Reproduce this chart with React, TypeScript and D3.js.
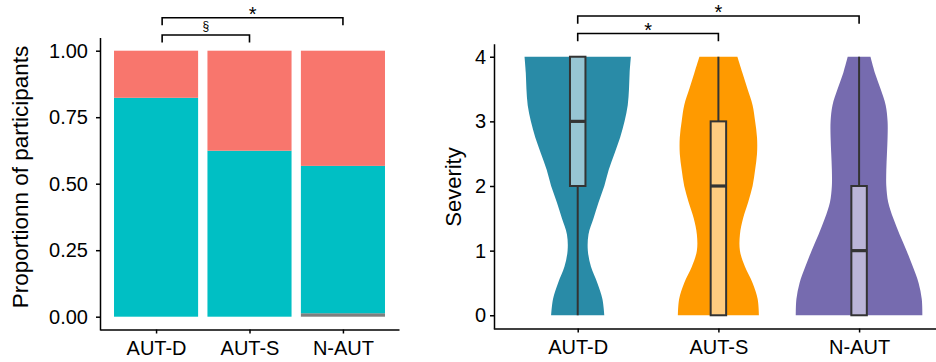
import * as d3 from 'd3';
import React, { useRef, useEffect } from 'react';

// groups on both panels
const groups = ['AUT-D', 'AUT-S', 'N-AUT'];

// left panel: stacked proportions (bottom -> top: NA, yes, no)
const propNA = [0, 0, 0.013];
const propYes = [0.823, 0.624, 0.554];
const propNo = [0.177, 0.376, 0.433];
const stackKeys = ['na', 'yes', 'no'];
const stackColors = ['#7F7F7F', '#00BFC4', '#F8766D'];
const leftTicks = [0, 0.25, 0.5, 0.75, 1];

// right panel: violin half-widths (relative density) at severity levels
const sevLevels = [0, 0.25, 0.5, 0.75, 1, 1.25, 1.5, 1.75, 2, 2.25, 2.5, 2.75, 3, 3.25, 3.5, 3.75, 4];
const densAUTD = [0.42, 0.39, 0.31, 0.21, 0.16, 0.17, 0.25, 0.33, 0.42, 0.49, 0.58, 0.67, 0.74, 0.79, 0.81, 0.82, 0.84];
const densAUTS = [0.64, 0.62, 0.54, 0.42, 0.34, 0.34, 0.39, 0.47, 0.54, 0.58, 0.61, 0.61, 0.58, 0.54, 0.46, 0.38, 0.30];
const densNAUT = [1.0, 0.99, 0.94, 0.85, 0.75, 0.64, 0.54, 0.46, 0.43, 0.43, 0.44, 0.45, 0.45, 0.42, 0.34, 0.25, 0.18];

// box stats: min, q1, median, q3, max
const boxAUTD = [0, 2, 3, 4, 4];
const boxAUTS = [0, 0, 2, 3, 4];
const boxNAUT = [0, 0, 1, 2, 4];
const violinColors = ['#298BA7', '#FF9A00', '#766BAF'];
const boxColors = ['#97C5D3', '#FFCC80', '#BBB5D8'];
const rightTicks = [0, 1, 2, 3, 4];

// significance brackets: [from, to, level, label]
const leftSig = [
  { from: 'AUT-D', to: 'N-AUT', level: 1.124, label: '*' },
  { from: 'AUT-D', to: 'AUT-S', level: 1.059, label: '§' },
];
const rightSig = [
  { from: 'AUT-D', to: 'N-AUT', level: 4.63, label: '*' },
  { from: 'AUT-D', to: 'AUT-S', level: 4.36, label: '*' },
];

const FONT = "'Liberation Sans', Arial, Helvetica, sans-serif";

function App() {
  const ref = useRef(null);

  useEffect(() => {
    const svg = d3.select(ref.current);
    svg.selectAll('*').remove();
    svg.attr('width', 936).attr('height', 362).style('font-family', FONT);

    // ---------- left panel ----------
    const xL = d3.scalePoint().domain(groups).range([100, 399]).padding(0.6);
    const yL = d3.scaleLinear().domain([-0.05, 1.05]).range([330, 37.4]);
    const stepL = xL.step();

    const rows = groups.map((g, i) => ({ group: g, na: propNA[i], yes: propYes[i], no: propNo[i] }));
    const series = d3.stack().keys(stackKeys)(rows);

    series.forEach((s, k) => {
      svg.append('g').selectAll('rect')
        .data(s)
        .enter()
        .append('rect')
        .attr('x', d => xL(d.data.group) - stepL * 0.45)
        .attr('width', stepL * 0.9)
        .attr('y', d => yL(d[1]))
        .attr('height', d => yL(d[0]) - yL(d[1]))
        .attr('fill', stackColors[k]);
    });

    const axL = svg.append('g').attr('transform', 'translate(100,0)')
      .call(d3.axisLeft(yL).tickValues(leftTicks).tickFormat(d3.format('.2f')).tickSize(4).tickSizeOuter(0).tickPadding(8));
    const axLB = svg.append('g').attr('transform', 'translate(0,329.5)')
      .call(d3.axisBottom(xL).tickSize(4).tickSizeOuter(0).tickPadding(7));

    svg.append('text')
      .attr('transform', 'translate(28,177) rotate(-90)')
      .attr('text-anchor', 'middle')
      .style('font-size', '22.5px')
      .text('Proportionn of participants');

    // ---------- right panel ----------
    const xR = d3.scalePoint().domain(groups).range([493.3, 943.5]).padding(0.6);
    const yR = d3.scaleLinear().domain([-0.2, 4.2]).range([328.2, 43.8]);
    const stepR = xR.step();
    const dens = [densAUTD, densAUTS, densNAUT];
    const boxes = [boxAUTD, boxAUTS, boxNAUT];

    groups.forEach((g, i) => {
      const cx = xR(g);
      const pts = sevLevels.map((v, j) => ({ v, w: dens[i][j] }));
      const area = d3.area()
        .y(d => yR(d.v))
        .x0(d => cx - d.w * 0.45 * stepR)
        .x1(d => cx + d.w * 0.45 * stepR)
        .curve(d3.curveCatmullRom);
      svg.append('path').attr('d', area(pts)).attr('fill', violinColors[i]);

      const [mn, q1, med, q3, mx] = boxes[i];
      const bw = stepR * 0.11;
      const bx = svg.append('g');
      bx.append('line').attr('x1', cx).attr('x2', cx).attr('y1', yR(mn)).attr('y2', yR(q1))
        .attr('stroke', '#333').attr('stroke-width', 2);
      bx.append('line').attr('x1', cx).attr('x2', cx).attr('y1', yR(q3)).attr('y2', yR(mx))
        .attr('stroke', '#333').attr('stroke-width', 2);
      bx.append('rect').attr('x', cx - bw / 2).attr('width', bw)
        .attr('y', yR(q3)).attr('height', yR(q1) - yR(q3))
        .attr('fill', boxColors[i]).attr('stroke', '#333').attr('stroke-width', 2);
      bx.append('line').attr('x1', cx - bw / 2).attr('x2', cx + bw / 2).attr('y1', yR(med)).attr('y2', yR(med))
        .attr('stroke', '#333').attr('stroke-width', 3.2);
    });

    const axR = svg.append('g').attr('transform', 'translate(494,0)')
      .call(d3.axisLeft(yR).tickValues(rightTicks).tickFormat(d3.format('d')).tickSize(4).tickSizeOuter(0).tickPadding(4));
    const axRB = svg.append('g').attr('transform', 'translate(0,328.5)')
      .call(d3.axisBottom(xR).tickSize(4).tickSizeOuter(0).tickPadding(7));

    svg.append('text')
      .attr('transform', 'translate(461,187) rotate(-90)')
      .attr('text-anchor', 'middle')
      .style('font-size', '22px')
      .text('Severity');

    [axL, axLB, axR, axRB].forEach(ax => {
      ax.select('.domain').attr('stroke', '#000').attr('stroke-width', 1.5);
      ax.selectAll('.tick line').attr('stroke', '#000').attr('stroke-width', 1.5);
      ax.selectAll('.tick text').attr('fill', '#000').style('font-size', '20px').style('font-family', FONT);
    });

    // ---------- significance brackets ----------
    const drawSig = (list, x, y, tip, startShift) => {
      list.forEach(s => {
        const x1 = x(s.from) + startShift;
        const x2 = x(s.to);
        const yy = y(s.level);
        const yt = y(s.level - tip);
        svg.append('path')
          .attr('d', `M${x1},${yt}V${yy}H${x2}V${yt}`)
          .attr('fill', 'none').attr('stroke', '#000').attr('stroke-width', 1.6);
        const small = s.label !== '*';
        svg.append('text')
          .attr('x', (x1 + x2) / 2)
          .attr('y', small ? yy - 5 : yy + 3.3)
          .attr('text-anchor', 'middle')
          .style('font-size', small ? '12px' : '20px')
          .text(s.label);
      });
    };
    drawSig(leftSig, xL, yL, 0.028, stepL * 0.065);
    drawSig(rightSig, xR, yR, 0.12, 0);
  });

  return (
    <div style={{ position: 'absolute', left: 0, top: 0 }}>
      <svg ref={ref}></svg>
    </div>
  );
}

export default App;
